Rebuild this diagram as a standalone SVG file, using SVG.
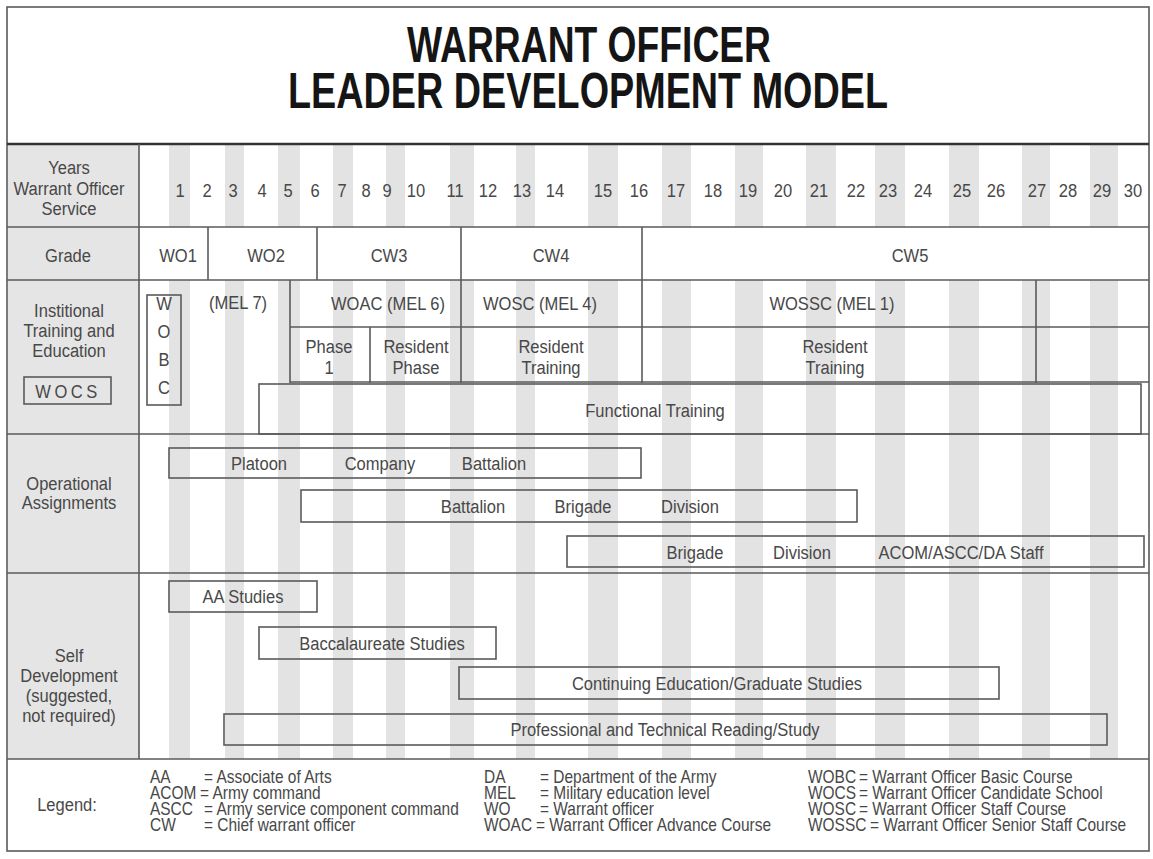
<svg xmlns="http://www.w3.org/2000/svg" width="1153" height="859" viewBox="0 0 1153 859">
<style>
  .t{font-family:"Liberation Sans",Arial,sans-serif;font-size:19px;fill:#484848;text-anchor:middle}
  .lg{font-family:"Liberation Sans",Arial,sans-serif;font-size:18px;fill:#484848}
  .ttl{font-family:"Liberation Sans",Arial,sans-serif;font-weight:bold;font-size:50px;fill:#151515;text-anchor:middle}
  .box{fill:none;stroke:#5a5a5a;stroke-width:1.6}
  .ln{stroke:#5a5a5a;stroke-width:1.6;fill:none}
  .st{fill:#e3e3e3}
</style>
<rect width="1153" height="859" fill="#ffffff"/>
<g id="bands">
  <rect x="8" y="145" width="131" height="614" fill="#e5e5e5"/>
  <rect class="st" x="169" y="145" width="21" height="614"/>
  <rect class="st" x="225" y="145" width="19" height="614"/>
  <rect class="st" x="278" y="145" width="22" height="614"/>
  <rect class="st" x="333" y="145" width="20" height="614"/>
  <rect class="st" x="386" y="145" width="19" height="614"/>
  <rect class="st" x="450" y="145" width="24" height="614"/>
  <rect class="st" x="516" y="145" width="19" height="614"/>
  <rect class="st" x="588" y="145" width="30" height="614"/>
  <rect class="st" x="662" y="145" width="29" height="614"/>
  <rect class="st" x="735" y="145" width="28" height="614"/>
  <rect class="st" x="806" y="145" width="30" height="614"/>
  <rect class="st" x="875" y="145" width="30" height="614"/>
  <rect class="st" x="949" y="145" width="30" height="614"/>
  <rect class="st" x="1022" y="145" width="28" height="614"/>
  <rect class="st" x="1090" y="145" width="28" height="614"/>
  <rect x="139" y="227" width="1010" height="53" fill="#ffffff"/>
</g>
<g id="title">
  <text class="ttl" x="589" y="62" textLength="364" lengthAdjust="spacingAndGlyphs">WARRANT OFFICER</text>
  <text class="ttl" x="588" y="108" textLength="600" lengthAdjust="spacingAndGlyphs">LEADER DEVELOPMENT MODEL</text>
</g>
<g id="grid">
  <rect x="7" y="7" width="1142" height="844" class="ln"/>
  <line x1="7" y1="144" x2="1149" y2="144" stroke="#333" stroke-width="2.5"/>
  <line class="ln" x1="7" y1="227" x2="1149" y2="227"/>
  <line class="ln" x1="7" y1="280" x2="1149" y2="280"/>
  <line class="ln" x1="7" y1="434" x2="1149" y2="434"/>
  <line class="ln" x1="7" y1="573" x2="1149" y2="573"/>
  <line class="ln" x1="7" y1="759" x2="1149" y2="759"/>
  <line class="ln" x1="139" y1="144" x2="139" y2="759"/>
</g>
<g id="years">
  <text class="t" transform="matrix(.87 0 0 1 69 174)">Years</text>
  <text class="t" transform="matrix(.87 0 0 1 69 195)">Warrant Officer</text>
  <text class="t" transform="matrix(.87 0 0 1 69 215)">Service</text>
  <text class="t" transform="matrix(.87 0 0 1 180 197)">1</text>
  <text class="t" transform="matrix(.87 0 0 1 207 197)">2</text>
  <text class="t" transform="matrix(.87 0 0 1 233 197)">3</text>
  <text class="t" transform="matrix(.87 0 0 1 262 197)">4</text>
  <text class="t" transform="matrix(.87 0 0 1 288 197)">5</text>
  <text class="t" transform="matrix(.87 0 0 1 315 197)">6</text>
  <text class="t" transform="matrix(.87 0 0 1 342 197)">7</text>
  <text class="t" transform="matrix(.87 0 0 1 366 197)">8</text>
  <text class="t" transform="matrix(.87 0 0 1 387 197)">9</text>
  <text class="t" transform="matrix(.87 0 0 1 416 197)">10</text>
  <text class="t" transform="matrix(.87 0 0 1 455 197)">11</text>
  <text class="t" transform="matrix(.87 0 0 1 488 197)">12</text>
  <text class="t" transform="matrix(.87 0 0 1 522 197)">13</text>
  <text class="t" transform="matrix(.87 0 0 1 555 197)">14</text>
  <text class="t" transform="matrix(.87 0 0 1 603 197)">15</text>
  <text class="t" transform="matrix(.87 0 0 1 639 197)">16</text>
  <text class="t" transform="matrix(.87 0 0 1 676 197)">17</text>
  <text class="t" transform="matrix(.87 0 0 1 713 197)">18</text>
  <text class="t" transform="matrix(.87 0 0 1 748 197)">19</text>
  <text class="t" transform="matrix(.87 0 0 1 783 197)">20</text>
  <text class="t" transform="matrix(.87 0 0 1 819 197)">21</text>
  <text class="t" transform="matrix(.87 0 0 1 856 197)">22</text>
  <text class="t" transform="matrix(.87 0 0 1 888 197)">23</text>
  <text class="t" transform="matrix(.87 0 0 1 923 197)">24</text>
  <text class="t" transform="matrix(.87 0 0 1 962 197)">25</text>
  <text class="t" transform="matrix(.87 0 0 1 996 197)">26</text>
  <text class="t" transform="matrix(.87 0 0 1 1037 197)">27</text>
  <text class="t" transform="matrix(.87 0 0 1 1068 197)">28</text>
  <text class="t" transform="matrix(.87 0 0 1 1102 197)">29</text>
  <text class="t" transform="matrix(.87 0 0 1 1133 197)">30</text>
</g>
<g id="grade">
  <text class="t" transform="matrix(.87 0 0 1 68 262)">Grade</text>
  <line class="ln" x1="208" y1="227" x2="208" y2="280"/>
  <line class="ln" x1="317" y1="227" x2="317" y2="280"/>
  <line class="ln" x1="461" y1="227" x2="461" y2="280"/>
  <line class="ln" x1="642" y1="227" x2="642" y2="280"/>
  <text class="t" transform="matrix(.87 0 0 1 178 262)">WO1</text>
  <text class="t" transform="matrix(.87 0 0 1 266 262)">WO2</text>
  <text class="t" transform="matrix(.87 0 0 1 389 262)">CW3</text>
  <text class="t" transform="matrix(.87 0 0 1 551 262)">CW4</text>
  <text class="t" transform="matrix(.87 0 0 1 910 262)">CW5</text>
</g>
<g id="training">
  <text class="t" transform="matrix(.87 0 0 1 69 317)">Institional</text>
  <text class="t" transform="matrix(.87 0 0 1 69 337)">Training and</text>
  <text class="t" transform="matrix(.87 0 0 1 69 357)">Education</text>
  <g id="wocs">
    <rect class="box" x="24" y="377" width="87" height="27"/>
    <text class="t" transform="matrix(.87 0 0 1 68 398)" letter-spacing="4">WOCS</text>
  </g>
  <g id="wobc">
    <rect class="box" x="147" y="295" width="34" height="110" fill="#ffffff"/>
    <text class="t" transform="matrix(.87 0 0 1 164 310)">W</text>
    <text class="t" transform="matrix(.87 0 0 1 164 338)">O</text>
    <text class="t" transform="matrix(.87 0 0 1 164 366)">B</text>
    <text class="t" transform="matrix(.87 0 0 1 164 394)">C</text>
  </g>
  <text class="t" transform="matrix(.87 0 0 1 238 309)">(MEL 7)</text>
  <line class="ln" x1="290" y1="280" x2="290" y2="383"/>
  <line class="ln" x1="461" y1="280" x2="461" y2="383"/>
  <line class="ln" x1="642" y1="280" x2="642" y2="383"/>
  <line class="ln" x1="1036" y1="280" x2="1036" y2="383"/>
  <line class="ln" x1="370" y1="327" x2="370" y2="383"/>
  <line class="ln" x1="290" y1="327" x2="1149" y2="327"/>
  <line class="ln" x1="290" y1="382" x2="1149" y2="382"/>
  <text class="t" transform="matrix(.87 0 0 1 388 310)">WOAC (MEL 6)</text>
  <text class="t" transform="matrix(.87 0 0 1 540 310)">WOSC (MEL 4)</text>
  <text class="t" transform="matrix(.87 0 0 1 832 310)">WOSSC (MEL 1)</text>
  <text class="t" transform="matrix(.87 0 0 1 329 353)">Phase</text>
  <text class="t" transform="matrix(.87 0 0 1 329 374)">1</text>
  <text class="t" transform="matrix(.87 0 0 1 416 353)">Resident</text>
  <text class="t" transform="matrix(.87 0 0 1 416 374)">Phase</text>
  <text class="t" transform="matrix(.87 0 0 1 551 353)">Resident</text>
  <text class="t" transform="matrix(.87 0 0 1 551 374)">Training</text>
  <text class="t" transform="matrix(.87 0 0 1 835 353)">Resident</text>
  <text class="t" transform="matrix(.87 0 0 1 835 374)">Training</text>
  <g id="functional">
    <rect class="box" x="259" y="384" width="882" height="50"/>
    <text class="t" transform="matrix(.87 0 0 1 655 417)">Functional Training</text>
  </g>
</g>
<g id="operational">
  <text class="t" transform="matrix(.87 0 0 1 69 490)">Operational</text>
  <text class="t" transform="matrix(.87 0 0 1 69 509)">Assignments</text>
  <g id="op1">
    <rect class="box" x="169" y="448" width="472" height="30"/>
    <text class="t" transform="matrix(.87 0 0 1 259 470)">Platoon</text>
    <text class="t" transform="matrix(.87 0 0 1 380 470)">Company</text>
    <text class="t" transform="matrix(.87 0 0 1 494 470)">Battalion</text>
  </g>
  <g id="op2">
    <rect class="box" x="301" y="490" width="556" height="32"/>
    <text class="t" transform="matrix(.87 0 0 1 473 513)">Battalion</text>
    <text class="t" transform="matrix(.87 0 0 1 583 513)">Brigade</text>
    <text class="t" transform="matrix(.87 0 0 1 690 513)">Division</text>
  </g>
  <g id="op3">
    <rect class="box" x="567" y="536" width="577" height="31"/>
    <text class="t" transform="matrix(.87 0 0 1 695 559)">Brigade</text>
    <text class="t" transform="matrix(.87 0 0 1 802 559)">Division</text>
    <text class="t" transform="matrix(.87 0 0 1 961 559)">ACOM/ASCC/DA Staff</text>
  </g>
</g>
<g id="selfdev">
  <text class="t" transform="matrix(.87 0 0 1 69 662)">Self</text>
  <text class="t" transform="matrix(.87 0 0 1 69 682)">Development</text>
  <text class="t" transform="matrix(.87 0 0 1 69 702)">(suggested,</text>
  <text class="t" transform="matrix(.87 0 0 1 69 722)">not required)</text>
  <g id="sd-aa">
    <rect class="box" x="169" y="581" width="148" height="31"/>
    <text class="t" transform="matrix(.87 0 0 1 243 603)">AA Studies</text>
  </g>
  <g id="sd-bacc">
    <rect class="box" x="259" y="627" width="237" height="32"/>
    <text class="t" transform="matrix(.87 0 0 1 382 650)">Baccalaureate Studies</text>
  </g>
  <g id="sd-cont">
    <rect class="box" x="459" y="667" width="540" height="32"/>
    <text class="t" transform="matrix(.87 0 0 1 717 690)">Continuing Education/Graduate Studies</text>
  </g>
  <g id="sd-prof">
    <rect class="box" x="224" y="714" width="883" height="31"/>
    <text class="t" transform="matrix(.87 0 0 1 665 736)">Professional and Technical Reading/Study</text>
  </g>
</g>
<g id="legend">
  <text class="t" transform="matrix(.87 0 0 1 67 811)">Legend:</text>
  <text class="lg" transform="matrix(.86 0 0 1 150 783)">AA</text>
  <text class="lg" transform="matrix(.86 0 0 1 204 783)">= Associate of Arts</text>
  <text class="lg" transform="matrix(.86 0 0 1 150 799)">ACOM</text>
  <text class="lg" transform="matrix(.86 0 0 1 200 799)">= Army command</text>
  <text class="lg" transform="matrix(.86 0 0 1 150 815)">ASCC</text>
  <text class="lg" transform="matrix(.86 0 0 1 204 815)">= Army service component command</text>
  <text class="lg" transform="matrix(.86 0 0 1 150 831)">CW</text>
  <text class="lg" transform="matrix(.86 0 0 1 204 831)">= Chief warrant officer</text>
  <text class="lg" transform="matrix(.86 0 0 1 484 783)">DA</text>
  <text class="lg" transform="matrix(.86 0 0 1 540 783)">= Department of the Army</text>
  <text class="lg" transform="matrix(.86 0 0 1 484 799)">MEL</text>
  <text class="lg" transform="matrix(.86 0 0 1 540 799)">= Military education level</text>
  <text class="lg" transform="matrix(.86 0 0 1 484 815)">WO</text>
  <text class="lg" transform="matrix(.86 0 0 1 540 815)">= Warrant officer</text>
  <text class="lg" transform="matrix(.86 0 0 1 484 831)">WOAC</text>
  <text class="lg" transform="matrix(.86 0 0 1 536 831)">= Warrant Officer Advance Course</text>
  <text class="lg" transform="matrix(.86 0 0 1 808 783)">WOBC</text>
  <text class="lg" transform="matrix(.86 0 0 1 859 783)">= Warrant Officer Basic Course</text>
  <text class="lg" transform="matrix(.86 0 0 1 808 799)">WOCS</text>
  <text class="lg" transform="matrix(.86 0 0 1 859 799)">= Warrant Officer Candidate School</text>
  <text class="lg" transform="matrix(.86 0 0 1 808 815)">WOSC</text>
  <text class="lg" transform="matrix(.86 0 0 1 859 815)">= Warrant Officer Staff Course</text>
  <text class="lg" transform="matrix(.86 0 0 1 808 831)">WOSSC</text>
  <text class="lg" transform="matrix(.86 0 0 1 870 831)">= Warrant Officer Senior Staff Course</text>
</g>
</svg>
